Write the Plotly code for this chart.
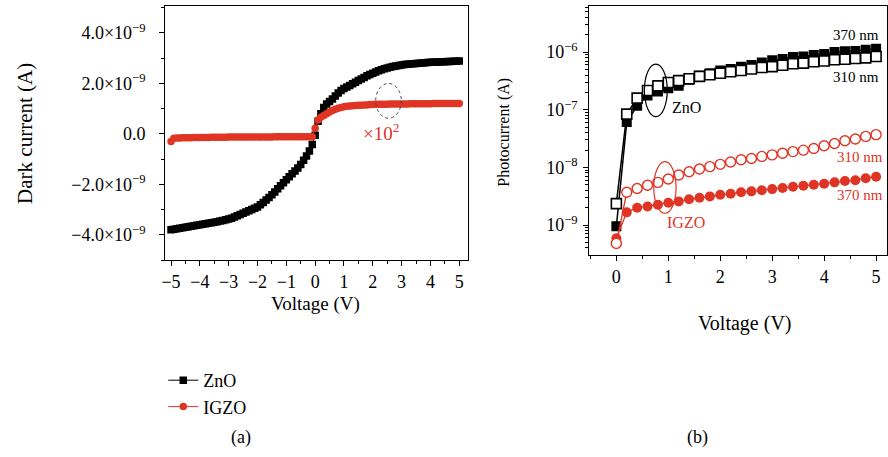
import plotly.graph_objects as go

W, H = 888, 457
FONT = "Liberation Serif"
RED = "#e03424"

# ---------------- (a) dark current ----------------
V_A = [-5.0, -4.9, -4.8, -4.7, -4.6, -4.5, -4.4, -4.3, -4.2, -4.1, -4.0, -3.9, -3.8,
       -3.7, -3.6, -3.5, -3.4, -3.3, -3.2, -3.1, -3.0, -2.9, -2.8, -2.7, -2.6, -2.5,
       -2.4, -2.3, -2.2, -2.1, -2.0, -1.9, -1.8, -1.7, -1.6, -1.5, -1.4, -1.3, -1.2,
       -1.1, -1.0, -0.9, -0.8, -0.7, -0.6, -0.5, -0.4, -0.3, -0.2, -0.1, 0.0, 0.1,
       0.2, 0.3, 0.4, 0.5, 0.6, 0.7, 0.8, 0.9, 1.0, 1.1, 1.2, 1.3, 1.4, 1.5, 1.6, 1.7,
       1.8, 1.9, 2.0, 2.1, 2.2, 2.3, 2.4, 2.5, 2.6, 2.7, 2.8, 2.9, 3.0, 3.1, 3.2, 3.3,
       3.4, 3.5, 3.6, 3.7, 3.8, 3.9, 4.0, 4.1, 4.2, 4.3, 4.4, 4.5, 4.6, 4.7, 4.8, 4.9,
       5.0]
# ZnO dark current, nA
ZNO_DARK_NA = [-3.80, -3.78, -3.76, -3.74, -3.72, -3.70, -3.68, -3.66, -3.64, -3.62,
               -3.60, -3.58, -3.56, -3.54, -3.52, -3.50, -3.48, -3.45, -3.43, -3.40,
               -3.37, -3.34, -3.30, -3.25, -3.20, -3.15, -3.10, -3.05, -3.00, -2.95,
               -2.90, -2.81, -2.72, -2.62, -2.52, -2.41, -2.30, -2.18, -2.06, -1.94,
               -1.82, -1.70, -1.58, -1.47, -1.35, -1.21, -1.05, -0.88, -0.68, -0.42,
               -0.05, 0.50, 0.80, 1.05, 1.18, 1.28, 1.38, 1.50, 1.62, 1.72, 1.80, 1.86,
               1.92, 1.99, 2.05, 2.12, 2.18, 2.24, 2.30, 2.35, 2.40, 2.45, 2.50, 2.54,
               2.58, 2.61, 2.64, 2.67, 2.69, 2.71, 2.73, 2.75, 2.76, 2.77, 2.78, 2.79,
               2.80, 2.81, 2.82, 2.83, 2.84, 2.84, 2.85, 2.85, 2.86, 2.86, 2.87, 2.87,
               2.88, 2.88, 2.89]
# IGZO dark current as plotted (already multiplied by 10^2), nA
IGZO_DARK_X100_NA = [-0.30, -0.17, -0.16, -0.16, -0.15, -0.15, -0.15, -0.15, -0.14, -0.14,
                     -0.14, -0.14, -0.14, -0.14, -0.13, -0.13, -0.13, -0.13, -0.13, -0.13,
                     -0.12, -0.12, -0.12, -0.12, -0.12, -0.12, -0.12, -0.12, -0.12, -0.12,
                     -0.12, -0.12, -0.12, -0.12, -0.12, -0.12, -0.11, -0.11, -0.11, -0.11,
                     -0.11, -0.11, -0.11, -0.11, -0.11, -0.11, -0.11, -0.11, -0.11, -0.11,
                     0.22, 0.55, 0.66, 0.73, 0.80, 0.87, 0.93, 0.98, 1.02, 1.05, 1.08, 1.10,
                     1.11, 1.12, 1.13, 1.14, 1.14, 1.15, 1.15, 1.16, 1.16, 1.17, 1.17, 1.17,
                     1.17, 1.17, 1.18, 1.18, 1.18, 1.18, 1.18, 1.18, 1.18, 1.19, 1.19, 1.19,
                     1.19, 1.19, 1.19, 1.19, 1.19, 1.20, 1.20, 1.20, 1.20, 1.20, 1.20, 1.20,
                     1.20, 1.20, 1.20]

A_XTICKS = [-5, -4, -3, -2, -1, 0, 1, 2, 3, 4, 5]
A_XTICKTEXT = ["\u22125", "\u22124", "\u22123", "\u22122", "\u22121", "0", "1", "2", "3", "4", "5"]
A_YTICKS = [4e-9, 2e-9, 0.0, -2e-9, -4e-9]
A_YTICKTEXT = ["4.0\u00d710<sup>\u22129</sup>", "2.0\u00d710<sup>\u22129</sup>", "0.0",
               "\u22122.0\u00d710<sup>\u22129</sup>", "\u22124.0\u00d710<sup>\u22129</sup>"]

# ---------------- (b) photocurrent ----------------
V_B = [0.0, 0.2, 0.4, 0.6, 0.8, 1.0, 1.2, 1.4, 1.6, 1.8, 2.0, 2.2, 2.4, 2.6, 2.8, 3.0,
       3.2, 3.4, 3.6, 3.8, 4.0, 4.2, 4.4, 4.6, 4.8, 5.0]
ZNO_370 = [0.95e-9, 6.1e-8, 1.17e-7, 1.77e-7, 2.08e-7, 2.37e-7, 2.6e-7, 3.3e-7, 3.9e-7,
           4.3e-7, 4.8e-7, 5.1e-7, 5.6e-7, 6.0e-7, 6.6e-7, 7.2e-7, 7.6e-7, 8.2e-7, 8.4e-7,
           8.9e-7, 9.3e-7, 1.0e-6, 1.03e-6, 1.05e-6, 1.1e-6, 1.14e-6]
ZNO_310 = [2.35e-9, 8.4e-8, 1.59e-7, 2.16e-7, 2.6e-7, 2.97e-7, 3.2e-7, 3.45e-7, 3.8e-7,
           4.05e-7, 4.3e-7, 4.55e-7, 4.8e-7, 5.1e-7, 5.4e-7, 5.6e-7, 5.9e-7, 6.3e-7,
           6.45e-7, 6.8e-7, 7.0e-7, 7.35e-7, 7.5e-7, 7.75e-7, 7.95e-7, 8.4e-7]
IGZO_310 = [4.8e-10, 3.7e-9, 4.3e-9, 4.9e-9, 5.5e-9, 6.3e-9, 7.4e-9, 8.4e-9, 9.35e-9,
            1.03e-8, 1.13e-8, 1.24e-8, 1.36e-8, 1.43e-8, 1.55e-8, 1.65e-8, 1.76e-8,
            1.88e-8, 1.99e-8, 2.13e-8, 2.37e-8, 2.6e-8, 2.9e-8, 3.1e-8, 3.45e-8, 3.7e-8]
IGZO_370 = [5.9e-10, 1.66e-9, 2.0e-9, 2.1e-9, 2.25e-9, 2.44e-9, 2.57e-9, 2.8e-9, 2.98e-9,
            3.14e-9, 3.35e-9, 3.5e-9, 3.7e-9, 3.84e-9, 4.0e-9, 4.2e-9, 4.4e-9, 4.6e-9,
            4.8e-9, 5.0e-9, 5.2e-9, 5.5e-9, 5.8e-9, 6.0e-9, 6.5e-9, 6.9e-9]

B_XTICKS = [0, 1, 2, 3, 4, 5]
B_YTICKS = [1e-9, 1e-8, 1e-7, 1e-6]
B_YTICKTEXT = ["10<sup>\u22129</sup>", "10<sup>\u22128</sup>", "10<sup>\u22127</sup>",
               "10<sup>\u22126</sup>"]

zno_dark = [v * 1e-9 for v in ZNO_DARK_NA]
igzo_dark = [v * 1e-9 for v in IGZO_DARK_X100_NA]


def px(x, y):
    return x / W, 1 - y / H


fig = go.Figure()

fig.add_trace(go.Scatter(x=V_A, y=zno_dark, mode="lines+markers", name="ZnO",
                         line=dict(color="black", width=1),
                         marker=dict(symbol="square", size=7.5, color="black"),
                         xaxis="x", yaxis="y"))
fig.add_trace(go.Scatter(x=V_A, y=igzo_dark, mode="lines+markers", name="IGZO",
                         line=dict(color=RED, width=1),
                         marker=dict(symbol="circle", size=7.5, color=RED),
                         xaxis="x", yaxis="y"))

fig.add_trace(go.Scatter(x=V_B, y=ZNO_370, mode="lines+markers", showlegend=False,
                         line=dict(color="black", width=1.5),
                         marker=dict(symbol="square", size=10, color="black"),
                         xaxis="x2", yaxis="y2"))
fig.add_trace(go.Scatter(x=V_B, y=ZNO_310, mode="lines+markers", showlegend=False,
                         line=dict(color="black", width=1.5),
                         marker=dict(symbol="square", size=10, color="white",
                                     line=dict(color="black", width=1.6)),
                         xaxis="x2", yaxis="y2"))
fig.add_trace(go.Scatter(x=V_B, y=IGZO_370, mode="lines+markers", showlegend=False,
                         line=dict(color=RED, width=1.3),
                         marker=dict(symbol="circle", size=10, color=RED),
                         xaxis="x2", yaxis="y2"))
fig.add_trace(go.Scatter(x=V_B, y=IGZO_310, mode="lines+markers", showlegend=False,
                         line=dict(color=RED, width=1.3),
                         marker=dict(symbol="circle", size=10, color="white",
                                     line=dict(color=RED, width=1.4)),
                         xaxis="x2", yaxis="y2"))

axis_common = dict(showline=True, linecolor="black", linewidth=1.3, mirror=True,
                   ticks="outside", ticklen=5, tickwidth=1, tickcolor="black",
                   showgrid=False, zeroline=False,
                   tickfont=dict(family=FONT, size=18, color="black"))

fig.update_layout(
    width=W, height=H,
    margin=dict(l=0, r=0, t=0, b=0),
    paper_bgcolor="white", plot_bgcolor="white",
    font=dict(family=FONT, size=17, color="black"),
    xaxis=dict(domain=[162 / W, 466 / W], anchor="y", range=[-5.2, 5.3],
               tickmode="array", tickvals=A_XTICKS, ticktext=A_XTICKTEXT,
               ticklabelstandoff=0,
               minor=dict(tickmode="linear", tick0=0, dtick=0.5, ticks="outside",
                          ticklen=3, tickcolor="black"),
               **axis_common),
    yaxis=dict(domain=[1 - 260 / H, 1 - 6 / H], anchor="x", range=[-5.0e-9, 5.07e-9],
               tickmode="array", tickvals=A_YTICKS, ticktext=A_YTICKTEXT,
               ticklabelstandoff=10,
               minor=dict(tickmode="linear", tick0=0, dtick=1e-9, ticks="outside",
                          ticklen=3, tickcolor="black"),
               **axis_common),
    xaxis2=dict(domain=[588 / W, 887 / W], anchor="y2", range=[-0.52, 5.21],
                tickmode="array", tickvals=B_XTICKS,
                minor=dict(tickmode="linear", tick0=0, dtick=0.5, ticks="outside",
                           ticklen=3, tickcolor="black"),
                **axis_common),
    yaxis2=dict(domain=[1 - 255 / H, 1 - 6 / H], anchor="x2", type="log",
                range=[-9.52, -5.2], ticklabelstandoff=2,
                tickmode="array", tickvals=B_YTICKS, ticktext=B_YTICKTEXT,
                minor=dict(dtick="D1", ticks="outside", ticklen=3, tickcolor="black"),
                **axis_common),
    legend=dict(x=160 / W, y=1 - 362 / H, xanchor="left", yanchor="top",
                font=dict(family=FONT, size=18, color="black"),
                bgcolor="rgba(0,0,0,0)", tracegroupgap=0, itemwidth=30),
    showlegend=True,
)

ann = []


def add_text(x, y, text, size=17, color="black", angle=0, xanchor="center"):
    xp, yp = px(x, y)
    ann.append(dict(x=xp, y=yp, xref="paper", yref="paper", text=text, showarrow=False,
                    font=dict(family=FONT, size=size, color=color), textangle=angle,
                    xanchor=xanchor, yanchor="middle"))


add_text(21, 133, "Dark current (A)", size=21, angle=-90)
add_text(313, 304, "Voltage (V)", size=19)
add_text(502, 132, "Photocurrent (A)", size=16, angle=-90)
add_text(744, 323, "Voltage (V)", size=20)
add_text(238, 437, "(a)", size=18)
add_text(697, 437, "(b)", size=18)
add_text(379, 132, "\u00d710<sup>2</sup>", size=19, color=RED)
add_text(856, 35, "370 nm", size=15)
add_text(856, 77, "310 nm", size=15)
add_text(860, 157, "310 nm", size=15, color=RED)
add_text(860, 195, "370 nm", size=15, color=RED)
add_text(686, 107, "ZnO", size=16)
add_text(685, 223, "IGZO", size=16, color=RED)
fig.update_layout(annotations=ann)

# shapes on a log axis take data values
shapes = [
    dict(type="circle", xref="x", yref="y", x0=2.10, x1=2.99, y0=0.62e-9, y1=2.0e-9,
         line=dict(color="#444444", width=1, dash="dot")),
    dict(type="circle", xref="x2", yref="y2", x0=0.54, x1=0.98, y0=7.6e-8, y1=6.2e-7,
         line=dict(color="black", width=1.2)),
    dict(type="circle", xref="x2", yref="y2", x0=0.72, x1=1.15, y0=1.6e-9, y1=1.26e-8,
         line=dict(color=RED, width=1.2)),
]
fig.update_layout(shapes=shapes)

fig.write_html("out.html", config={"displayModeBar": False},
               post_script="document.body.style.margin='0px';")
